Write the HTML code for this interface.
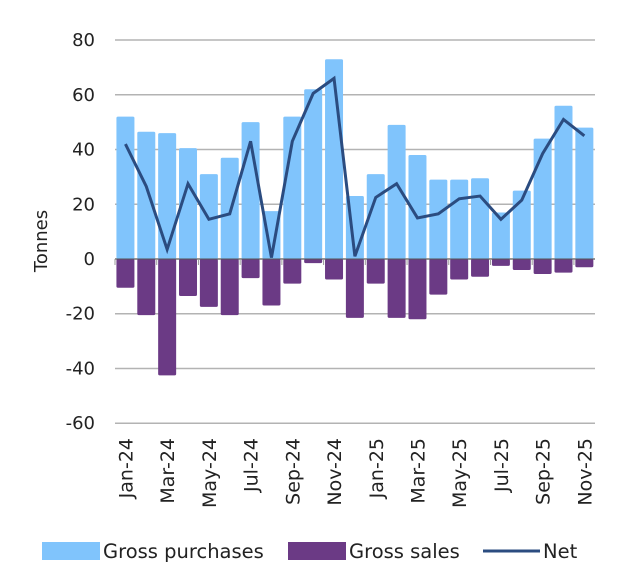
<!DOCTYPE html>
<html><head><meta charset="utf-8"><style>
body{margin:0;background:#fff;font-family:"DejaVu Sans",sans-serif}
</style></head><body>
<svg id="c" width="640" height="576" font-family="DejaVu Sans, sans-serif"></svg>
<script>
const months=["Jan-24","Feb-24","Mar-24","Apr-24","May-24","Jun-24","Jul-24","Aug-24","Sep-24","Oct-24","Nov-24","Dec-24","Jan-25","Feb-25","Mar-25","Apr-25","May-25","Jun-25","Jul-25","Aug-25","Sep-25","Oct-25","Nov-25"];
const purchases=[52,46.5,46,40.5,31,37,50,17.5,52,62,73,23,31,49,38,29,29,29.5,17,25,44,56,48];
const sales=[-10.5,-20.5,-42.5,-13.5,-17.5,-20.5,-7,-17,-9,-1.5,-7.5,-21.5,-9,-21.5,-22,-13,-7.5,-6.5,-2.5,-4,-5.5,-5,-3];
const net=[42,26.5,3.5,27.5,14.5,16.5,43,0.5,43,60.5,66,1,22.5,27.5,15,16.5,22,23,14.5,21.5,38.5,51,45];
const yTicks=[80,60,40,20,0,-20,-40,-60];
const svg=document.getElementById('c');const NS='http://www.w3.org/2000/svg';
const X0=115,BW=20.86,Y0=259,PPU=2.737;
const y=v=>Y0-v*PPU;const xc=i=>X0+BW*(i+0.5);
function mk(t,a,p){const e=document.createElementNS(NS,t);for(const k in a)e.setAttribute(k,a[k]);(p||svg).appendChild(e);return e;}
yTicks.forEach(t=>{
 const l=mk('line',{x1:X0,x2:595,y1:y(t),y2:y(t),stroke:'#b3b3b3','stroke-width':1.5});
 
 
 const tx=mk('text',{x:95,y:y(t)+6,'text-anchor':'end','font-size':18,fill:'#222'});tx.textContent=t;
 
 
});
months.forEach((m,i)=>{
 const b=mk('rect',{x:xc(i)-9,y:y(purchases[i]),width:18,height:purchases[i]*PPU,fill:'#80c4fc',rx:1.5});
 
 
 const s=mk('rect',{x:xc(i)-9,y:Y0,width:18,height:-sales[i]*PPU,fill:'#6b3a85',rx:1.5});
 
 
 if(i%2==0){const tx=mk('text',{transform:`translate(${xc(i)+7},438) rotate(-90)`,'text-anchor':'end','font-size':19,fill:'#222'});tx.textContent=m;
 
 }
});
const ax=mk('line',{x1:X0,x2:595,y1:Y0,y2:Y0,stroke:'#555','stroke-width':1});


for(let i=0;i<=23;i+=2){const t=mk('line',{x1:X0+BW*i,x2:X0+BW*i,y1:Y0,y2:Y0+6,stroke:'#999'});}
const pl=mk('polyline',{points:net.map((v,i)=>xc(i)+','+y(v)).join(' '),fill:'none',stroke:'#2b4c80','stroke-width':3,'stroke-linejoin':'miter'});


const yt=mk('text',{transform:'translate(47,241) rotate(-90)','text-anchor':'middle','font-size':18,fill:'#222'});yt.textContent='Tonnes';


const lg=mk('g',{});


const r1=mk('rect',{x:42,y:542,width:58,height:18,fill:'#80c4fc'},lg);
const t1=mk('text',{x:103,y:558,'font-size':19.5,fill:'#222'},lg);t1.textContent='Gross purchases';
const r2=mk('rect',{x:288,y:542,width:58,height:18,fill:'#6b3a85'},lg);
const t2=mk('text',{x:349,y:558,'font-size':19.5,fill:'#222'},lg);t2.textContent='Gross sales';
const l3=mk('line',{x1:483,x2:540,y1:551,y2:551,stroke:'#2b4c80','stroke-width':3},lg);
const t3=mk('text',{x:543,y:558,'font-size':19.5,fill:'#222'},lg);t3.textContent='Net';
</script>
</body></html>
